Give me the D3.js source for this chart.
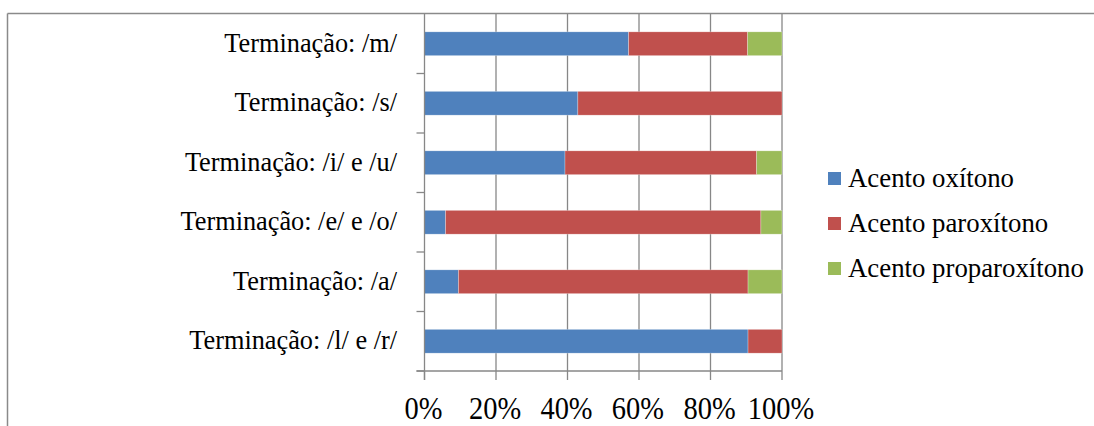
<!DOCTYPE html>
<html>
<head>
<meta charset="utf-8">
<script src="https://cdn.jsdelivr.net/npm/d3@7"></script>
<style>
  html, body { margin: 0; padding: 0; background: #fff; }
  svg { display: block; }
  text { font-family: "Liberation Serif", "Times New Roman", serif; fill: #000; }
</style>
</head>
<body>
<svg id="chart" width="1094" height="426"></svg>
<script>
const categories = [
  "Terminação: /m/",
  "Terminação: /s/",
  "Terminação: /i/ e /u/",
  "Terminação: /e/ e /o/",
  "Terminação: /a/",
  "Terminação: /l/ e /r/"
];
const seriesNames = ["Acento oxítono", "Acento paroxítono", "Acento proparoxítono"];
const oxitono       = [57.1, 42.9, 39.3, 5.9, 9.5, 90.5];
const paroxitono    = [33.3, 57.1, 53.6, 88.2, 81.0, 9.5];
const proparoxitono = [9.6, 0, 7.1, 5.9, 9.5, 0];
const xTicks = [0, 0.2, 0.4, 0.6, 0.8, 1.0];
const colors = ["#4F81BD", "#C0504D", "#9BBB59"];

const svg = d3.select("#chart");
const W = 1094, H = 426;
const plot = { left: 424.5, right: 782, top: 14, bottom: 371 };

// Chart border (cropped: top and left visible)
svg.append("line").attr("x1", 7.5).attr("x2", W).attr("y1", 13.5).attr("y2", 13.5)
  .attr("stroke", "#8a8a8a").attr("stroke-width", 1.5);
svg.append("line").attr("x1", 7.5).attr("x2", 7.5).attr("y1", 13.5).attr("y2", H)
  .attr("stroke", "#8a8a8a").attr("stroke-width", 1.5);

const x = d3.scaleLinear().domain([0, 1]).range([plot.left, plot.right]);
const y = d3.scaleBand().domain(categories).range([plot.top, plot.bottom]).paddingInner(0.6).paddingOuter(0.3);
const yOuter = d3.scaleBand().domain(categories).range([plot.top, plot.bottom]);

// Gridlines
svg.append("g").selectAll("line").data(xTicks.slice(1)).join("line")
  .attr("x1", d => x(d)).attr("x2", d => x(d))
  .attr("y1", plot.top).attr("y2", plot.bottom)
  .attr("stroke", "#878787").attr("stroke-width", 1.3);

// Stacked data
const table = categories.map((c, i) => ({ cat: c, a: oxitono[i], b: paroxitono[i], c: proparoxitono[i] }));
const stack = d3.stack().keys(["a", "b", "c"]).offset(d3.stackOffsetExpand);
const layers = stack(table);

svg.append("g").selectAll("g").data(layers).join("g")
  .attr("fill", (d, i) => colors[i])
  .selectAll("rect").data(d => d).join("rect")
  .attr("x", d => x(d[0]))
  .attr("width", d => Math.max(0, x(d[1]) - x(d[0])))
  .attr("y", d => y(d.data.cat))
  .attr("height", y.bandwidth())
  .attr("stroke", d => (d[1] - d[0]) > 0 ? "rgba(255,255,255,0.45)" : "none")
  .attr("stroke-width", 0.6);

// Y axis
const yAxisG = svg.append("g");
yAxisG.append("line").attr("x1", plot.left).attr("x2", plot.left)
  .attr("y1", plot.top).attr("y2", plot.bottom + 9)
  .attr("stroke", "#878787").attr("stroke-width", 1.3);
const yBounds = categories.map(c => yOuter(c)).concat([plot.bottom]).slice(1);
yAxisG.selectAll("line.tk").data(yBounds).join("line").attr("class", "tk")
  .attr("x1", plot.left - 8).attr("x2", plot.left)
  .attr("y1", d => d).attr("y2", d => d)
  .attr("stroke", "#878787").attr("stroke-width", 1.3);
yAxisG.selectAll("text").data(categories).join("text")
  .attr("x", 397)
  .attr("y", d => yOuter(d) + yOuter.bandwidth() / 2 + 8)
  .attr("text-anchor", "end")
  .attr("font-size", "26.3px")
  .text(d => d);

// X axis
const xAxisG = svg.append("g");
xAxisG.append("line").attr("x1", plot.left - 8).attr("x2", plot.right)
  .attr("y1", plot.bottom).attr("y2", plot.bottom)
  .attr("stroke", "#878787").attr("stroke-width", 1.3);
xAxisG.selectAll("line.tk").data(xTicks).join("line").attr("class", "tk")
  .attr("x1", d => x(d)).attr("x2", d => x(d))
  .attr("y1", plot.bottom).attr("y2", plot.bottom + 9)
  .attr("stroke", "#878787").attr("stroke-width", 1.3);
xAxisG.selectAll("text").data(xTicks).join("text")
  .attr("x", d => x(d) - 1)
  .attr("y", 419)
  .attr("text-anchor", "middle")
  .attr("font-size", "28.5px")
  .attr("transform", d => `translate(0,${419}) scale(1,1.12) translate(0,${-419})`)
  .text(d => d3.format(".0%")(d));

// Legend
const legend = svg.append("g").selectAll("g").data(seriesNames).join("g")
  .attr("transform", (d, i) => `translate(828, ${172 + i * 45})`);
legend.append("rect").attr("width", 13).attr("height", 13).attr("fill", (d, i) => colors[i]);
legend.append("text").attr("x", 20).attr("y", 15).attr("font-size", "26.8px").text(d => d);
</script>
</body>
</html>
